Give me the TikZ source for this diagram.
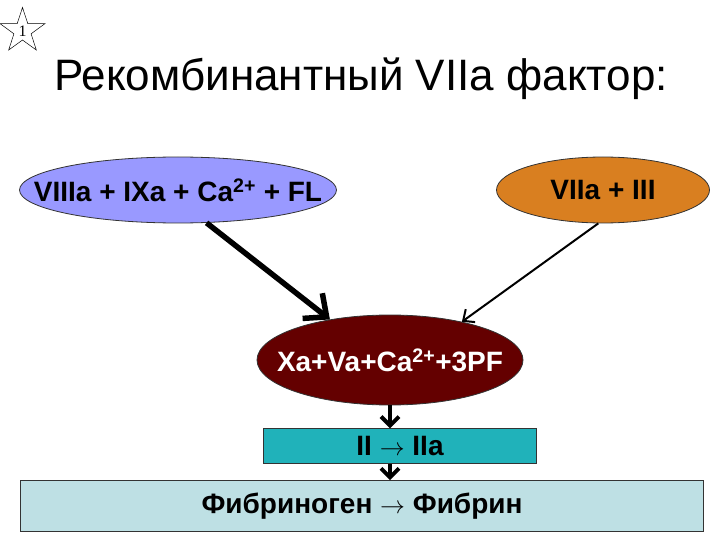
\documentclass[tikz,border=0pt]{standalone}
\usepackage{fontspec}
\setmainfont{Liberation Sans}
\newfontfamily\starfont{Liberation Serif}
\usetikzlibrary{arrows.meta,positioning,shapes.geometric}

\definecolor{periwinkle}{RGB}{153,153,255}
\definecolor{rust}{RGB}{217,127,32}
\definecolor{darkmaroon}{RGB}{100,0,0}
\definecolor{tealbox}{RGB}{32,178,186}
\definecolor{paleteal}{RGB}{190,224,228}
\newcommand{\toarr}{\ensuremath{\rightarrow}}

\tikzset{
  factor/.style={ellipse, draw=black!80, line width=0.8pt, inner xsep=-40pt,
    inner ysep=0pt, font=\fontsize{28}{32}\selectfont\bfseries},
  stage/.style={rectangle, draw=black!80, line width=0.8pt, inner sep=0pt,
    font=\fontsize{28}{32}\selectfont\bfseries},
}

\begin{document}
\begin{tikzpicture}[x=1pt,y=1pt,node distance=23pt]
\useasboundingbox (0,0) rectangle (720,-540);

\node (star) [star, star points=5, star point ratio=2.6, draw, line width=0.5pt,
  minimum size=47pt, inner sep=0pt, font=\starfont\fontsize{16}{16}\selectfont]
  at (22.5,-31) {1};
\node (title) [anchor=base, font=\fontsize{44}{50}\selectfont] at (361,-91)
  {Рекомбинантный VIIa фактор:};

% activators
\node (tenase) [factor, fill=periwinkle, minimum width=317pt, minimum height=66pt]
  at (178,-190) {VIIIa + IXa + Ca\textsuperscript{2+} + FL};
\node (tf) [factor, fill=rust, minimum width=213pt, minimum height=66pt]
  at (603,-190) {VIIa + III};
\node (prothrombinase) [factor, fill=darkmaroon, text=white, minimum width=266pt,
  minimum height=90pt] at (390,-360) {Xa+Va+Ca\textsuperscript{2+}+3PF};

% cascade
\node (thrombin) [stage, fill=tealbox, minimum width=273pt, minimum height=35pt,
  below=23pt of prothrombinase, xshift=10pt] {II \toarr\ IIa};
\node (fibrin) [stage, fill=paleteal, minimum width=683pt, minimum height=51pt,
  below=16pt of thrombin, xshift=-38pt] {Фибриноген \toarr\ Фибрин};

\draw[line width=5.5pt, -{Straight Barb[length=18pt,width=32pt]}]
  (tenase.-49) -- (prothrombinase.146);
\draw[line width=2pt, -{Straight Barb[length=9pt,width=16pt]}]
  (tf.-98) -- (prothrombinase.28);
\draw[line width=4pt, -{Straight Barb[length=9pt,width=18pt]}]
  (prothrombinase.south) -- (prothrombinase.south |- thrombin.north);
\draw[line width=4pt, -{Straight Barb[length=9pt,width=18pt]}]
  (prothrombinase.south |- thrombin.south) -- (prothrombinase.south |- fibrin.north);
\end{tikzpicture}
\end{document}
